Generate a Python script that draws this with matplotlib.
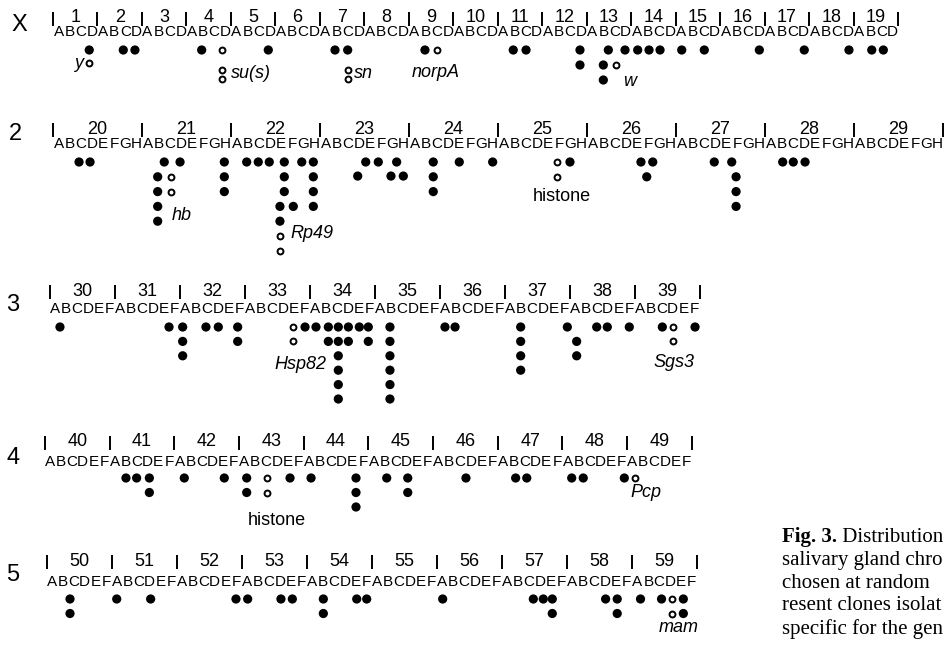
import matplotlib
matplotlib.use("Agg")
import matplotlib.pyplot as plt

# ---- data (positions in sub-division letters, 0 = first letter;
#      depth = how many clones stacked below that band) ----
ARM_LABELS = ["X", "2", "3", "4", "5"]

X_DIVISIONS = list(range(1, 20))
X_LETTERS = "ABCD"
X_FILLED_POS = [2.76, 5.82, 6.87, 12.87, 18.86, 24.86, 26.0, 32.95, 40.89, 42.04,
                46.89, 49.44, 50.94, 52.08, 53.1, 54.09, 56.04, 58.07, 63.02, 67.06,
                71.08, 73.13, 74.17, 46.89, 48.99, 48.99]
X_FILLED_DEPTH = [0] * 23 + [1, 1, 2]
X_OPEN_POS = [14.67, 34.0, 2.76, 14.67, 26.0, 14.67, 26.0, 50.1]
X_OPEN_DEPTH = [0, 0, 0.85, 1.35, 1.35, 1.95, 1.95, 1]
X_GENES = ["y", "su(s)", "sn", "norpA", "w"]
X_GENE_POS = [2.2, 15.5, 26.6, 33.9, 50.8]
X_GENE_DEPTH = [0.9, 1.6, 1.6, 1.5, 2.1]

A2_DIVISIONS = list(range(20, 30))
A2_LETTERS = "ABCDEFGH"
A2_FILLED_POS = [1.84, 2.83, 9.5, 10.92, 14.9, 16.91, 17.95, 18.94, 20.29, 21.86,
                 22.9, 27.61, 28.74, 30.39, 33.68, 36.02, 39.02, 45.97, 52.35, 53.41,
                 58.94, 60.51, 65.09, 66.04, 67.1,
                 8.91, 14.9, 20.29, 22.9, 33.68, 52.87, 60.9, 26.89, 29.88, 30.99,
                 8.91, 14.9, 20.29, 22.9, 33.68, 60.9,
                 8.91, 19.9, 21.1, 22.9, 60.9,
                 8.91, 19.9]
A2_FILLED_DEPTH = ([0] * 25 + [1] * 7 + [0.95] * 3 + [2] * 6 + [3] * 5 + [4] * 2)
A2_OPEN_POS = [10.11, 10.11, 19.9, 19.9, 44.83, 44.83]
A2_OPEN_DEPTH = [1, 2, 5, 6, 0, 1]
A2_GENES = ["hb", "Rp49", "histone"]
A2_GENE_POS = [10.2, 20.8, 45.25]
A2_GENE_DEPTH = [3.6, 4.8, 2.3]

A3_DIVISIONS = list(range(30, 40))
A3_LETTERS = "ABCDEF"
A3_FILLED_POS = [0.42, 10.49, 11.75, 13.9, 15.04, 16.83, 23.05, 24.06, 25.2, 26.12,
                 27.05, 28.06, 28.89, 30.89, 35.97, 36.9, 42.96, 47.27, 49.98, 50.96,
                 52.99, 56.04, 59.06,
                 11.75, 16.83, 25.2, 26.12, 27.05, 28.89, 30.89, 42.96, 48.13,
                 11.75, 26.12, 30.89, 42.96, 48.13,
                 26.12, 30.89, 42.96,
                 26.12, 30.89,
                 26.12, 30.89]
A3_FILLED_DEPTH = [0] * 23 + [1] * 9 + [2] * 5 + [3] * 3 + [4] * 2 + [5] * 2
A3_OPEN_POS = [21.96, 21.96, 57.05, 57.05]
A3_OPEN_DEPTH = [0, 1, 0, 1]
A3_GENES = ["Hsp82", "Sgs3"]
A3_GENE_POS = [25.0, 57.1]
A3_GENE_DEPTH = [2.6, 2.45]

A4_DIVISIONS = list(range(40, 50))
A4_LETTERS = "ABCDEF"
A4_FILLED_POS = [7.01, 8.0, 9.18, 12.42, 16.13, 18.21, 22.23, 24.18, 28.35, 31.2,
                 33.15, 38.55, 43.16, 44.19, 48.36, 49.43, 53.24,
                 9.18, 18.21, 28.35, 33.15,
                 28.35]
A4_FILLED_DEPTH = [0] * 17 + [1] * 4 + [2]
A4_OPEN_POS = [20.07, 20.07, 54.23]
A4_OPEN_DEPTH = [0, 1, 0]
A4_GENES = ["histone", "Pcp"]
A4_GENE_POS = [21.0, 55.2]
A4_GENE_DEPTH = [2.9, 1.0]

A5_DIVISIONS = list(range(50, 60))
A5_LETTERS = "ABCDEF"
A5_FILLED_POS = [1.65, 5.96, 9.09, 16.96, 18.04, 21.11, 22.16, 25.02, 28.1, 29.02,
                 36.03, 44.39, 45.31, 46.14, 51.06, 52.13, 54.28, 56.22, 58.23,
                 1.65, 25.02, 46.14, 52.13, 58.23]
A5_FILLED_DEPTH = [0] * 19 + [1] * 5
A5_OPEN_POS = [57.16, 57.16]
A5_OPEN_DEPTH = [0, 1]
A5_GENES = ["mam"]
A5_GENE_POS = [57.8]
A5_GENE_DEPTH = [1.95]

CAPTION = ["Distribution", "salivary gland chro", "chosen at random",
           "resent clones isolat", "specific for the gen"]

# ---- layout in pixels: left, pitch, numbers y, letters y, first dot y, dot step, label x, label y
W, H, DPI = 944, 645, 100
ROWS = [
    (X_DIVISIONS, X_LETTERS, X_FILLED_POS, X_FILLED_DEPTH, X_OPEN_POS, X_OPEN_DEPTH,
     X_GENES, X_GENE_POS, X_GENE_DEPTH, ["right", "left", "left", "center", "left"],
     (53, 11.12, 18, 32, 50, 15.0, 19, 25)),
    (A2_DIVISIONS, A2_LETTERS, A2_FILLED_POS, A2_FILLED_DEPTH, A2_OPEN_POS, A2_OPEN_DEPTH,
     A2_GENES, A2_GENE_POS, A2_GENE_DEPTH, ["left", "left", "center"],
     (53, 11.125, 129, 144, 162, 14.8, 15, 134)),
    (A3_DIVISIONS, A3_LETTERS, A3_FILLED_POS, A3_FILLED_DEPTH, A3_OPEN_POS, A3_OPEN_DEPTH,
     A3_GENES, A3_GENE_POS, A3_GENE_DEPTH, ["right", "center"],
     (50, 10.83, 291, 309, 327, 14.4, 13, 305)),
    (A4_DIVISIONS, A4_LETTERS, A4_FILLED_POS, A4_FILLED_DEPTH, A4_OPEN_POS, A4_OPEN_DEPTH,
     A4_GENES, A4_GENE_POS, A4_GENE_DEPTH, ["center", "center"],
     (45, 10.78, 442, 462, 478, 14.5, 13, 458)),
    (A5_DIVISIONS, A5_LETTERS, A5_FILLED_POS, A5_FILLED_DEPTH, A5_OPEN_POS, A5_OPEN_DEPTH,
     A5_GENES, A5_GENE_POS, A5_GENE_DEPTH, ["center"],
     (46.7, 10.84, 561, 582, 599, 14.5, 13, 575)),
]

SANS = "Liberation Sans"
SERIF = "Liberation Serif"

fig = plt.figure(figsize=(W / DPI, H / DPI), dpi=DPI)
fig.patch.set_facecolor("white")

for arm, row in zip(ARM_LABELS, ROWS):
    (divs, letters, fpos, fdep, opos, odep, genes, gpos, gdep, galign, geo) = row
    left, pitch, y_num, y_let, y_dot, dy, x_lab, y_lab = geo

    # one transparent axes per arm, x in letter units, y in stacking depth
    ax = fig.add_axes([0, 0, 1, 1])
    ax.set_axis_off()
    ax.patch.set_alpha(0)
    ax.set_xlim(-left / pitch - 0.5, (W - left) / pitch - 0.5)
    ax.set_ylim((H - y_dot) / dy, -y_dot / dy)

    def py(v):
        return (v - y_dot) / dy

    n = len(letters)
    band = letters * len(divs)
    for i, ch in enumerate(band):
        ax.text(i, py(y_let), ch, ha="center", va="center", fontsize=11, family=SANS)

    for k, d in enumerate(divs):
        ax.text(k * n + n / 2 - 0.5, py(y_num), str(d), ha="center", va="center",
                fontsize=13, family=SANS)
    ax.vlines([k * n - 0.5 for k in range(len(divs) + 1)], py(y_num - 6), py(y_num + 8),
              color="black", lw=1.4)

    ax.text(-left / pitch - 0.5 + x_lab / pitch, py(y_lab), arm, ha="center", va="center",
            fontsize=17, family=SANS)

    ax.scatter(fpos, fdep, s=44, color="black", edgecolors="none", zorder=3)
    ax.scatter(opos, odep, s=18, facecolors="white", edgecolors="black",
               linewidths=1.4, zorder=3)

    for g, x, d, ha in zip(genes, gpos, gdep, galign):
        ax.text(x, d, g, ha=ha, va="center", fontsize=13, family=SANS,
                style="normal" if g == "histone" else "italic")

# caption block, cut by the right edge as in the source page
cx = 782 / W
cap_y = [537, 560, 583, 606, 629]
head = fig.text(cx, 1 - cap_y[0] / H, "Fig. 3.", fontsize=15, family=SERIF,
                weight="bold", ha="left", va="center")
fig.axes[-1].annotate(" " + CAPTION[0], xy=(1, 0.5), xycoords=head, va="center",
                      ha="left", fontsize=15, family=SERIF, annotation_clip=False)
for line, y in zip(CAPTION[1:], cap_y[1:]):
    fig.text(cx, 1 - y / H, line, fontsize=15, family=SERIF, ha="left", va="center")

fig.savefig("out.png", dpi=DPI)
